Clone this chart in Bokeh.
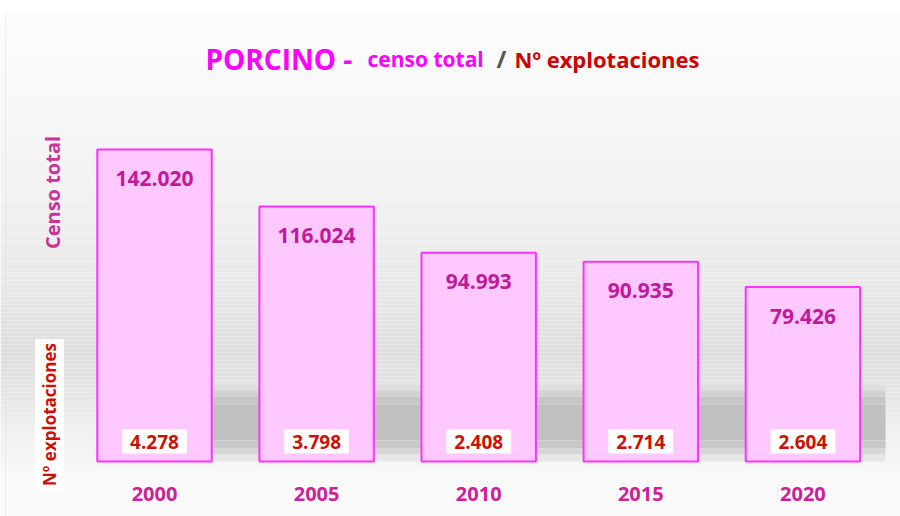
from bokeh.plotting import figure
from bokeh.models import Range1d, Label, BoxAnnotation, ColumnDataSource
from bokeh.core.properties import value
from bokeh.embed import file_html
from bokeh.resources import INLINE

# ---- data ----
years = ["2000", "2005", "2010", "2015", "2020"]
censo = [142020, 116024, 94993, 90935, 79426]
explotaciones = [4278, 3798, 2408, 2714, 2604]


def fmt(v):
    return f"{v:,}".replace(",", ".")


src = ColumnDataSource(dict(
    x=list(range(len(years))),
    year=years,
    censo=censo,
    expl=explotaciones,
    censo_lbl=[fmt(v) for v in censo],
    expl_lbl=[fmt(v) for v in explotaciones],
    zero=[0] * len(years),
))

FONT = value("Open Sans")
FONT_S = "Open Sans"
W, HT = 900, 516

p = figure(width=W, height=HT, output_backend="svg", toolbar_location=None,
           x_range=Range1d(-0.950, 4.602), y_range=Range1d(-25035, 204380),
           x_axis_location=None, y_axis_location=None,
           min_border_top=12, min_border_left=0, min_border_right=0, min_border_bottom=0)
p.grid.visible = False
p.outline_line_color = None
p.border_fill_color = "white"
p.background_fill_color = "#fafafa"


def box(left, right, ytop, ybot, **kw):
    # rectangle helper (screen units relative to frame bottom-left)
    p.add_layout(BoxAnnotation(left=left, right=right, top=HT - ytop, bottom=HT - ybot,
                               left_units="screen", right_units="screen",
                               top_units="screen", bottom_units="screen",
                               level="underlay", **kw))


# ---- background gradient ----
stops = [(12, 253), (100, 248), (200, 241), (300, 231), (355, 222), (385, 229),
         (420, 238), (462, 246), (475, 250), (516, 250)]


def grey_at(py):
    for (y0, g0), (y1, g1) in zip(stops[:-1], stops[1:]):
        if y0 <= py <= y1:
            t = (py - y0) / (y1 - y0)
            return int(round(g0 + t * (g1 - g0)))
    return stops[-1][1]


step = 4
for py in range(12, HT, step):
    g = grey_at(py + step / 2)
    box(0, W, py, py + step, fill_color="#%02x%02x%02x" % (g, g, g), fill_alpha=1, line_color=None)

# soft shadow band behind the bars
shadow = [(384, 390, 222), (390, 396, 210), (396, 404, 198), (404, 440, 192),
          (440, 448, 200), (448, 454, 214), (454, 461, 230)]
for y0, y1, g in shadow:
    box(97, 885, y0, y1, fill_color="#%02x%02x%02x" % (g, g, g), fill_alpha=1, line_color=None)

# frame border (top and left)
box(5, W + 10, 12, HT + 10, fill_alpha=0, line_color="#d4d4d4", line_width=1)

# ---- bars ----
p.vbar(x="x", top="censo", bottom=0, width=0.706, source=src,
       fill_color="#ffc8ff", line_color="#ff33ff", line_width=2)

p.text(x="x", y="censo", text="censo_lbl", source=src, y_offset=29,
       text_align="center", text_baseline="middle", text_font=FONT,
       text_font_style="bold", text_font_size="21px", text_color="#c01a9a")

p.text(x="x", y="zero", text="expl_lbl", source=src, y_offset=-20,
       text_align="center", text_baseline="middle", text_font=FONT,
       text_font_style="bold", text_font_size="19px", text_color="#cc1100",
       background_fill_color="white", padding=dict(left=8, right=8, top=5, bottom=5))

p.text(x="x", y="zero", text="year", source=src, y_offset=32,
       text_align="center", text_baseline="middle", text_font=FONT,
       text_font_style="bold", text_font_size="20px", text_color="#cc2299")

# ---- title pieces ----
TY = HT - 58
for txt, x, size, color in [("PORCINO -", 205, "28px", "#ff00ff"),
                            ("censo total", 367, "21px", "#ff00ff"),
                            ("/", 496, "24px", "#555555"),
                            ("Nº explotaciones", 514, "22px", "#cc0000")]:
    p.add_layout(Label(x=x, y=TY, x_units="screen", y_units="screen", text=txt,
                       text_font=FONT_S, text_font_style="bold", text_font_size=size,
                       text_color=color, text_align="left", text_baseline="alphabetic"))

# ---- vertical side labels ----
p.add_layout(Label(x=52, y=HT - 192, x_units="screen", y_units="screen", text="Censo total",
                   angle=1.5708, text_font=FONT_S, text_font_style="bold", text_font_size="20px",
                   text_color="#cc3399", text_align="center", text_baseline="middle"))
p.add_layout(Label(x=49, y=HT - 414, x_units="screen", y_units="screen", text="Nº explotaciones",
                   angle=1.5708, text_font=FONT_S, text_font_style="bold", text_font_size="17px",
                   text_color="#cc1100", text_align="center", text_baseline="middle",
                   background_fill_color="white", padding=dict(left=4, right=4, top=3, bottom=3)))

open("out.html", "w").write(file_html(p, INLINE))
